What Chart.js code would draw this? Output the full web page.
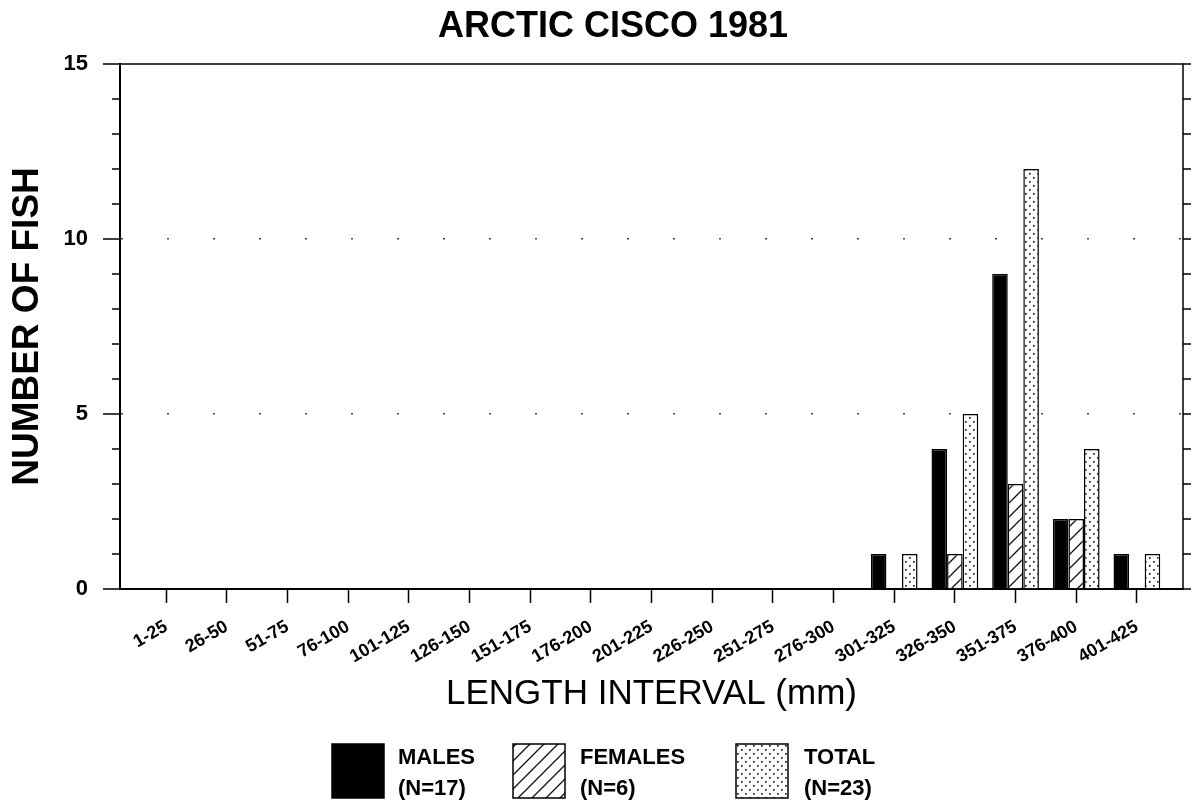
<!DOCTYPE html>
<html>
<head>
<meta charset="UTF-8">
<script src="https://cdn.jsdelivr.net/npm/chart.js"></script>
<style>
  html, body { margin: 0; padding: 0; background: #fff; }
  #wrap { width: 1197px; height: 804px; position: relative; }
</style>
</head>
<body>
<div id="wrap"><canvas id="grafica"></canvas></div>
<script>
const categories = [
  "1-25", "26-50", "51-75", "76-100", "101-125", "126-150", "151-175", "176-200",
  "201-225", "226-250", "251-275", "276-300", "301-325", "326-350", "351-375",
  "376-400", "401-425"
];
const males   = [0, 0, 0, 0, 0, 0, 0, 0, 0, 0, 0, 0, 1, 4, 9, 2, 1];
const females = [0, 0, 0, 0, 0, 0, 0, 0, 0, 0, 0, 0, 0, 1, 3, 2, 0];
const totals  = [0, 0, 0, 0, 0, 0, 0, 0, 0, 0, 0, 0, 1, 5, 12, 4, 1];
const yTicks = [0, 5, 10, 15];
const seriesNames = ["MALES", "FEMALES", "TOTAL"];
const chartTitle = "ARCTIC CISCO 1981";

const FONT = "'Liberation Sans', Arial, Helvetica, sans-serif";

function makeHatch() {
  const c = document.createElement("canvas");
  c.width = 14; c.height = 14;
  const g = c.getContext("2d");
  g.fillStyle = "#fff"; g.fillRect(0, 0, 14, 14);
  g.strokeStyle = "#111"; g.lineWidth = 1.3;
  g.beginPath();
  g.moveTo(0, 14); g.lineTo(14, 0);
  g.moveTo(-2, 2); g.lineTo(2, -2);
  g.moveTo(12, 16); g.lineTo(16, 12);
  g.stroke();
  return g.createPattern(c, "repeat");
}

function makeDots() {
  const c = document.createElement("canvas");
  c.width = 8; c.height = 8;
  const g = c.getContext("2d");
  g.fillStyle = "#fff"; g.fillRect(0, 0, 8, 8);
  g.fillStyle = "#222";
  g.fillRect(1, 1, 1.7, 1.7);
  g.fillRect(5, 5, 1.7, 1.7);
  return g.createPattern(c, "repeat");
}

const fills = ["#000", makeHatch(), makeDots()];
const toPoints = (arr) => arr.map((v, i) => ({ x: i, y: v }));
const sum = (arr) => arr.reduce((a, b) => a + b, 0);

// title, frame, minor ticks and the legend
const extras = {
  id: "extras",
  afterDraw(chart) {
    const { ctx, chartArea: a, scales } = chart;
    const y = scales.y;
    ctx.save();
    ctx.fillStyle = "#000";
    ctx.font = "bold 36px " + FONT;
    ctx.textAlign = "center";
    ctx.textBaseline = "middle";
    ctx.fillText(chartTitle, 613, 27);

    ctx.strokeStyle = "#000";
    ctx.lineWidth = 1.5;
    ctx.beginPath();
    ctx.moveTo(a.left, a.top); ctx.lineTo(a.right, a.top); ctx.lineTo(a.right, a.bottom);
    ctx.stroke();

    for (let v = 0; v <= 15; v++) {
      const py = y.getPixelForValue(v);
      const len = v % 5 === 0 ? 17 : 8;
      ctx.beginPath();
      ctx.moveTo(a.left - len, py); ctx.lineTo(a.left + 1, py);
      ctx.moveTo(a.right, py); ctx.lineTo(a.right + 8, py);
      ctx.stroke();
    }

    // legend
    const sets = chart.data.datasets;
    const boxX = [332, 513, 736];
    const textX = [398, 580, 804];
    const top = 744, bw = 52, bh = 54;
    ctx.font = "bold 22px " + FONT;
    ctx.textAlign = "left";
    sets.forEach((ds, i) => {
      ctx.fillStyle = ds.backgroundColor;
      ctx.fillRect(boxX[i], top, bw, bh);
      ctx.lineWidth = 1.5;
      ctx.strokeRect(boxX[i], top, bw, bh);
      ctx.fillStyle = "#000";
      ctx.fillText(ds.label, textX[i], 758);
      ctx.fillText("(N=" + sum(ds.data.map((p) => p.y)) + ")", textX[i], 789);
    });
    ctx.restore();
  }
};

new Chart(document.getElementById("grafica"), {
  type: "bar",
  data: {
    datasets: [males, females, totals].map((arr, i) => ({
      label: seriesNames[i],
      data: toPoints(arr),
      backgroundColor: fills[i],
      borderColor: "#000",
      borderWidth: 1.5,
      categoryPercentage: 0.77,
      barPercentage: 1
    }))
  },
  options: {
    responsive: true,
    maintainAspectRatio: false,
    animation: false,
    layout: { padding: { left: 0, right: 14, top: 64, bottom: 85 } },
    plugins: {
      legend: { display: false },
      tooltip: { enabled: false },
      title: { display: false }
    },
    scales: {
      x: {
        type: "linear",
        offset: false,
        min: -0.76,
        max: categories.length - 1 + 0.76,
        afterBuildTicks: (s) => { s.ticks = categories.map((c, i) => ({ value: i })); },
        afterFit: (s) => { s.height = 130; },
        ticks: {
          autoSkip: false,
          minRotation: 30,
          maxRotation: 30,
          padding: 13,
          color: "#000",
          font: { family: FONT, size: 18, weight: "bold" },
          callback: (v) => categories[v]
        },
        grid: { offset: false, drawOnChartArea: false, drawTicks: true, tickLength: 14, tickColor: "#000", tickWidth: 1.5 },
        border: { display: true, color: "#000", width: 2 },
        title: {
          display: true,
          text: "LENGTH INTERVAL (mm)",
          color: "#000",
          font: { family: FONT, size: 35 },
          padding: { top: 0, bottom: 4 }
        }
      },
      y: {
        min: 0,
        max: 15,
        afterBuildTicks: (s) => { s.ticks = yTicks.map((v) => ({ value: v })); },
        afterFit: (s) => { s.width = 120; },
        ticks: {
          padding: 32,
          color: "#000",
          font: { family: FONT, size: 22, weight: "bold" }
        },
        grid: {
          drawTicks: false,
          color: (c) => (c.tick && c.tick.value > 0 && c.tick.value < 15 ? "#444" : "rgba(0,0,0,0)"),
          lineWidth: 1.5
        },
        border: { display: true, color: "#000", width: 2, dash: [2, 44] },
        title: {
          display: true,
          text: "NUMBER OF FISH",
          color: "#000",
          font: { family: FONT, size: 37, weight: "bold" },
          padding: { top: 6, bottom: 0 }
        }
      }
    }
  },
  plugins: [extras]
});
</script>
</body>
</html>
